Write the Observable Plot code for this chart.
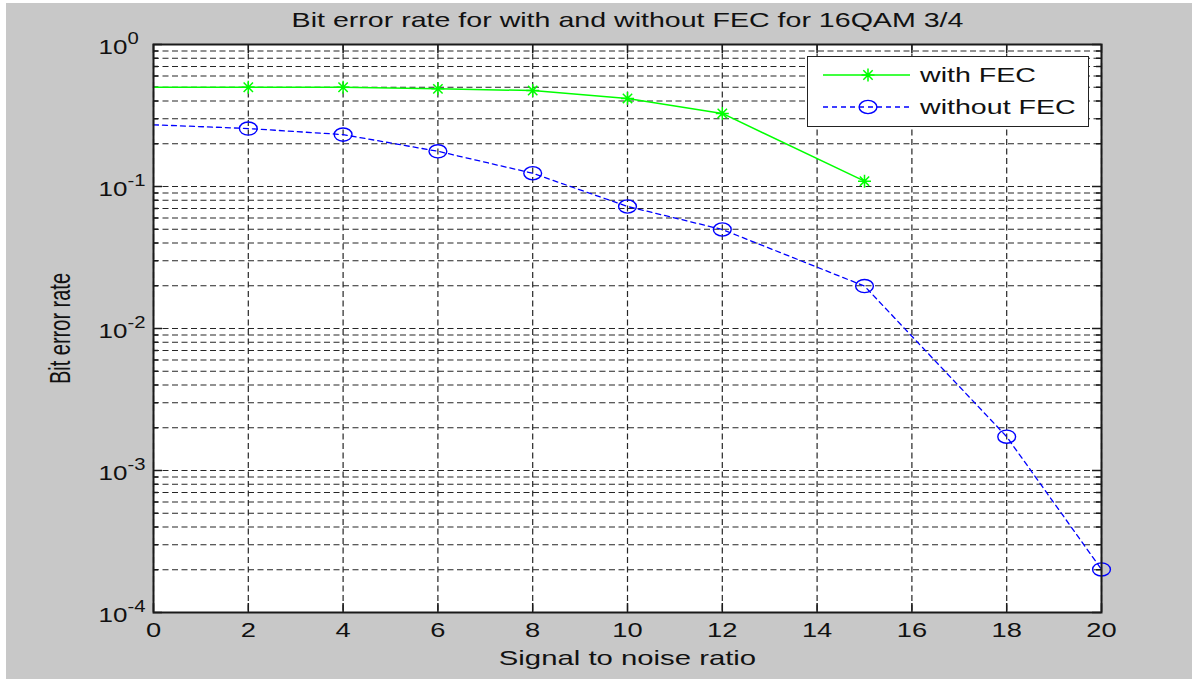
<!DOCTYPE html>
<html>
<head>
<meta charset="utf-8">
<script src="https://cdn.jsdelivr.net/npm/d3@7"></script>
<script src="https://cdn.jsdelivr.net/npm/@observablehq/plot@0.6"></script>
<style>
  html, body { margin: 0; padding: 0; background: #ffffff; }
  #fig { position: absolute; left: 6px; top: 3px; width: 1186px; height: 676px; background: #c8c8c8; overflow: hidden; }
  #fig svg { position: absolute; left: 0; top: 0; }
  #legend { position: absolute; left: 801px; top: 53px; width: 280px; height: 69px; background: #fff; border: 1.5px solid #222; }
  .lrow { position: absolute; left: 0; height: 30px; width: 280px; }
  .lrow svg { position: absolute; left: 0; top: 0; }
  .lrow span { position: absolute; left: 112px; top: 3px; font-family: "Liberation Sans", Arial, sans-serif; font-size: 20px; line-height: 24px; color: #111; transform: scaleX(1.43); transform-origin: left center; white-space: nowrap; }
</style>
</head>
<body>
<div id="fig"></div>
<script>
// ---- data ----
const titleText = "Bit error rate for with and without FEC for 16QAM 3/4";
const xLabelText = "Signal to noise ratio";
const yLabelText = "Bit error rate";
const seriesNames = ["with FEC", "without FEC"];

const withFecSnr = [0, 2, 4, 6, 8, 10, 12, 15];
const withFecBer = [0.50, 0.50, 0.50, 0.487, 0.474, 0.417, 0.327, 0.109];

const withoutFecSnr = [0, 2, 4, 6, 8, 10, 12, 15, 18, 20];
const withoutFecBer = [0.272, 0.256, 0.232, 0.177, 0.124, 0.0723, 0.0498, 0.0199, 0.00173, 0.000201];

const xTicks = [0, 2, 4, 6, 8, 10, 12, 14, 16, 18, 20];
const yTickExps = ["0", "-1", "-2", "-3", "-4"];
const yMajor = yTickExps.map(e => Math.pow(10, +e));
const yMinorMult = [2, 3, 4, 5, 6, 7, 8, 9];
const yMinor = [];
for (const e of [-4, -3, -2, -1]) for (const m of yMinorMult) yMinor.push(m * Math.pow(10, e));

// ---- tables ----
const withFec = withFecSnr.map((x, i) => ({x, y: withFecBer[i]}));
const withoutFec = withoutFecSnr.map((x, i) => ({x, y: withoutFecBer[i]}));

// ---- custom symbols ----
const asterisk = {
  draw(ctx, size) {
    const r = Math.sqrt(size / Math.PI);
    const d = r * 0.72;
    ctx.moveTo(-r, 0); ctx.lineTo(r, 0);
    ctx.moveTo(0, -r); ctx.lineTo(0, r);
    ctx.moveTo(-d, -d); ctx.lineTo(d, d);
    ctx.moveTo(-d, d); ctx.lineTo(d, -d);
  }
};
const ellipse = {
  draw(ctx, size) {
    const r = Math.sqrt(size / Math.PI);
    const rx = r * 1.35, ry = r, k = 0.5523;
    ctx.moveTo(rx, 0);
    ctx.bezierCurveTo(rx, ry * k, rx * k, ry, 0, ry);
    ctx.bezierCurveTo(-rx * k, ry, -rx, ry * k, -rx, 0);
    ctx.bezierCurveTo(-rx, -ry * k, -rx * k, -ry, 0, -ry);
    ctx.bezierCurveTo(rx * k, -ry, rx, -ry * k, rx, 0);
    ctx.closePath();
  }
};

// ---- layout ----
const W = 1186, H = 676;
const mL = 147, mR = 91, mT = 41, mB = 67;
const pw = W - mL - mR, ph = H - mT - mB;
const gridStyle = {stroke: "#262626", strokeWidth: 1.2, strokeDasharray: "6,3.5"};
const txt = "#111";

const chart = Plot.plot({
  width: W, height: H,
  marginLeft: mL, marginRight: mR, marginTop: mT, marginBottom: mB,
  style: {background: "transparent", fontFamily: "'Liberation Sans', Arial, sans-serif"},
  x: {domain: [0, 20], axis: null},
  y: {type: "log", domain: [1e-4, 1], axis: null},
  marks: [
    Plot.frame({fill: "white"}),
    // grid
    Plot.ruleY(yMinor, {y: d => d, ...gridStyle}),
    Plot.ruleY(yMajor, {y: d => d, ...gridStyle}),
    Plot.ruleX(xTicks, {x: d => d, ...gridStyle}),
    // inner ticks
    Plot.ruleY(yMajor, {y: d => d, insetRight: pw - 9, stroke: "#1a1a1a", strokeWidth: 1.5}),
    Plot.ruleY(yMajor, {y: d => d, insetLeft: pw - 9, stroke: "#1a1a1a", strokeWidth: 1.5}),
    Plot.ruleY(yMinor, {y: d => d, insetRight: pw - 5, stroke: "#1a1a1a", strokeWidth: 1.5}),
    Plot.ruleY(yMinor, {y: d => d, insetLeft: pw - 5, stroke: "#1a1a1a", strokeWidth: 1.5}),
    Plot.ruleX(xTicks, {x: d => d, insetTop: ph - 9, stroke: "#1a1a1a", strokeWidth: 1.5}),
    Plot.ruleX(xTicks, {x: d => d, insetBottom: ph - 9, stroke: "#1a1a1a", strokeWidth: 1.5}),
    // series
    Plot.line(withFec, {x: "x", y: "y", stroke: "#00ff00", strokeWidth: 1.5}),
    Plot.dot(withFec.filter(d => d.x > 0), {x: "x", y: "y", symbol: asterisk, r: 6.5, stroke: "#00ff00", fill: "none", strokeWidth: 1.5}),
    Plot.line(withoutFec, {x: "x", y: "y", stroke: "#0000ff", strokeWidth: 1.3, strokeDasharray: "5,4"}),
    Plot.dot(withoutFec.filter(d => d.x > 0), {x: "x", y: "y", symbol: ellipse, r: 6.6, stroke: "#0000ff", fill: "none", strokeWidth: 1.4}),
    Plot.frame({stroke: "#1a1a1a", strokeWidth: 2}),
    // texts
    Plot.text(xTicks, {x: d => d, text: d => String(d), frameAnchor: "bottom", dy: 18, lineAnchor: "middle", fontSize: 19.5, fill: txt, ariaDescription: "sx-tick"}),
    Plot.text(yMajor, {y: d => d, text: (d, i) => "10^" + yTickExps[i], frameAnchor: "left", dx: -55, dy: 3, textAnchor: "start", lineAnchor: "middle", fontSize: 20, fill: txt, ariaDescription: "sy-tick"}),
    Plot.text([titleText], {text: d => d, frameAnchor: "top", dy: -24, lineAnchor: "middle", fontSize: 20, fill: txt, ariaDescription: "s-title"}),
    Plot.text([xLabelText], {text: d => d, frameAnchor: "bottom", dy: 46, lineAnchor: "middle", fontSize: 20.5, fill: txt, ariaDescription: "s-xlabel"}),
    Plot.text([yLabelText], {text: d => d, frameAnchor: "left", dx: -93, rotate: -90, textAnchor: "middle", lineAnchor: "middle", fontSize: 20, fill: txt, ariaDescription: "s-ylabel"})
  ]
});

function textsOf(desc) {
  return chart.querySelectorAll(`g[aria-description="${desc}"] text`);
}

// superscripts on y tick labels
textsOf("sy-tick").forEach(t => {
  const parts = t.textContent.split("^");
  t.textContent = parts[0];
  const ts = document.createElementNS("http://www.w3.org/2000/svg", "tspan");
  ts.setAttribute("dy", "-0.62em");
  ts.setAttribute("font-size", "0.78em");
  ts.textContent = parts[1];
  t.appendChild(ts);
});

// horizontal stretch of text (the reference image is horizontally stretched)
function stretch(desc, s) {
  textsOf(desc).forEach(t => {
    const tr = t.getAttribute("transform") || "";
    const m = tr.match(/translate\([^)]*\)/);
    if (m) {
      t.setAttribute("transform", tr.replace(m[0], m[0] + ` scale(${s},1)`));
    } else {
      const x = +(t.getAttribute("x") || 0), y = +(t.getAttribute("y") || 0);
      t.setAttribute("transform", `translate(${x},${y}) scale(${s},1) translate(${-x},${-y})`);
    }
  });
}
stretch("sx-tick", 1.4);
stretch("sy-tick", 1.3);
stretch("s-title", 1.43);
stretch("s-xlabel", 1.43);
stretch("s-ylabel", 1.43);

const fig = document.getElementById("fig");
fig.appendChild(chart);

// legend overlay
const legend = document.createElement("div");
legend.id = "legend";
const rowTops = [3, 35];
const legendStyles = [
  {stroke: "#00ff00", dash: null, sym: asterisk, r: 6.5, w: 1.5},
  {stroke: "#0000ff", dash: "5,4", sym: ellipse, r: 6.6, w: 1.4}
];
seriesNames.forEach((name, i) => {
  const row = document.createElement("div");
  row.className = "lrow";
  row.style.top = rowTops[i] + "px";
  const st = legendStyles[i];
  const svg = d3.create("svg").attr("width", 110).attr("height", 30);
  svg.append("line").attr("x1", 15).attr("x2", 102).attr("y1", 15).attr("y2", 15)
    .attr("stroke", st.stroke).attr("stroke-width", st.w)
    .attr("stroke-dasharray", st.dash);
  svg.append("path").attr("transform", "translate(60,15)")
    .attr("d", d3.symbol(st.sym, Math.PI * st.r * st.r)())
    .attr("fill", "none").attr("stroke", st.stroke).attr("stroke-width", st.w);
  row.appendChild(svg.node());
  const span = document.createElement("span");
  span.textContent = name;
  row.appendChild(span);
  legend.appendChild(row);
});
fig.appendChild(legend);
</script>
</body>
</html>
